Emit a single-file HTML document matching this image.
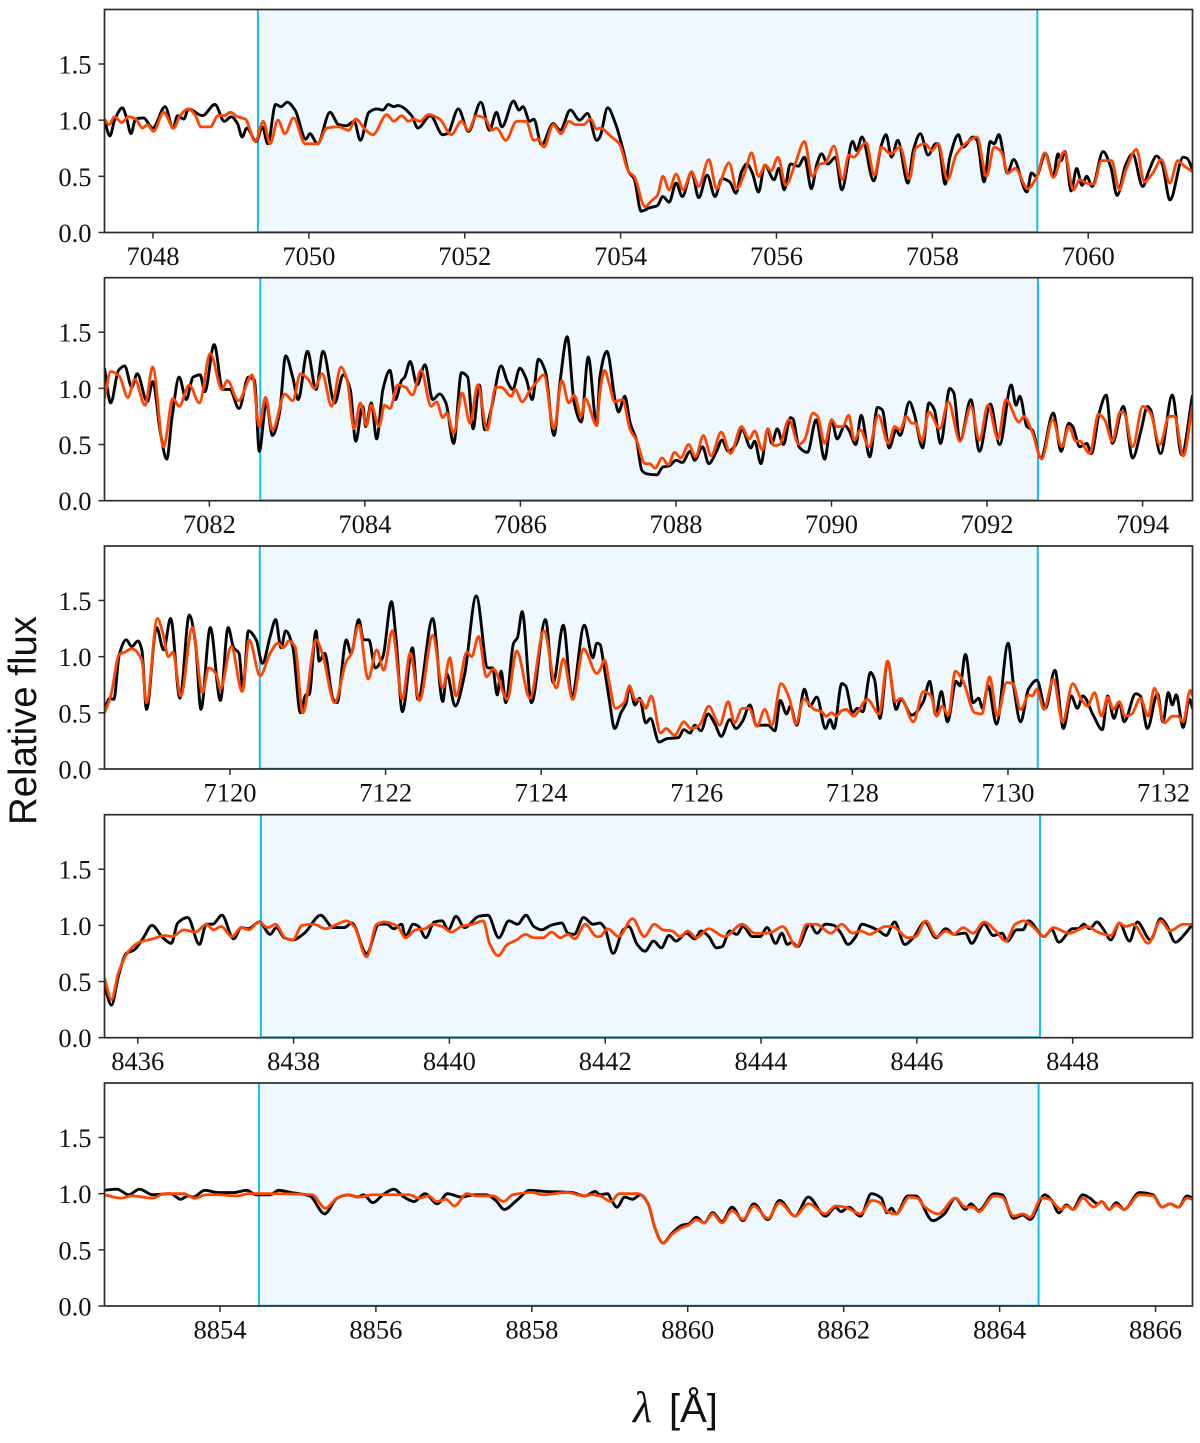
<!DOCTYPE html>
<html lang="en">
<head>
<meta charset="utf-8">
<title>Spectral windows: relative flux vs wavelength</title>
<style>
html,body{margin:0;padding:0;background:#fff;}
#chart{display:block;width:1200px;height:1443px;}
.tick{font-family:"Liberation Serif",serif;font-size:26.5px;fill:#111;}
.axis-title{font-family:"Liberation Sans",sans-serif;fill:#111;}
</style>
</head>
<body>
<svg id="chart" xmlns="http://www.w3.org/2000/svg" width="1200" height="1443" viewBox="0 0 1200 1443">
<text class="axis-title" transform="translate(36,720.5) rotate(-90)" text-anchor="middle" font-size="39" textLength="209" lengthAdjust="spacingAndGlyphs">Relative flux</text>
<text x="633" y="1422" font-family="'Liberation Serif',serif" font-style="italic" font-size="44" fill="#111">λ</text>
<text class="axis-title" x="669" y="1422" font-size="40">[Å]</text>
</svg>
<script>
// Window start wavelength (Å), window width (Å) and the shaded 10 Å interval start for each panel
const windowStart = [7047.378, 7080.652, 7118.387, 8435.573, 8852.519];
const windowWidth = [13.96, 13.99, 13.985, 13.965, 13.955];
const shadeStart = [7049.347, 7082.655, 7120.383, 8437.58, 8854.5];
const xTickLabels = [
  ["7048","7050","7052","7054","7056","7058","7060"],
  ["7082","7084","7086","7088","7090","7092","7094"],
  ["7120","7122","7124","7126","7128","7130","7132"],
  ["8436","8438","8440","8442","8444","8446","8448"],
  ["8854","8856","8858","8860","8862","8864","8866"]
];
const yTickLabels = ["0.0","0.5","1.0","1.5"];

// Wavelength offsets (Å from window start) and relative flux for each series
const p1BlackOffset = [0,.07,.13,.23,.28,.34,.40,.50,.62,.78,.88,.94,1.02,1.08,1.26,1.42,1.54,1.63,1.71,1.77,1.83,1.95,2.03,2.10,2.20,2.27,2.35,2.45,2.59,2.64,2.74,2.90,3.01,3.11,3.21,3.29,3.40,3.50,3.58,3.65,3.72,3.77,3.95,4.03,4.19,4.35,4.41,4.55,4.68,4.84,4.95,5.04,5.11,5.26,5.33,5.38,5.47,5.52,5.62,5.77,5.86,5.99,6.11,6.21,6.33,
6.37,6.47,6.57,6.67,6.74,6.81,6.90,7.01,7.11,7.18,7.26,7.35,7.43,7.55,7.64,7.75,7.85,7.94,8.04,8.12,8.19,8.26,8.33,8.41,8.49,8.61,8.67,8.74,8.82,8.92,9.00,9.09,9.16,9.22,9.30,9.40,9.48,9.62,9.67,9.74,9.89,9.99,10.05,10.12,10.20,10.33,10.40,10.49,10.59,10.69,10.72,10.81,10.87,10.98,11.04,11.17,11.22,11.31,11.39,11.44,11.50,11.61,11.69,11.86,11.92,11.98,12.10,12.20,12.26,12.30,12.35,12.43,12.50,12.57,12.63,12.70,12.84,12.94,13.02,13.13,13.22,13.35,13.43,13.53,13.60,13.70,13.87,13.92,14.00];
const p1BlackFlux = [1.00,.86,1.00,1.11,1.03,.88,1.01,1.02,.93,1.12,.93,1.04,1.01,1.10,1.04,1.14,.99,1.03,.97,.85,.93,.81,.94,.79,1.14,1.12,1.16,1.09,.83,.88,.79,1.07,.96,.95,.99,.82,1.07,1.10,1.09,1.14,1.12,1.13,1.04,.93,1.04,.87,.88,1.10,.90,1.16,.91,1.07,.94,1.17,1.09,1.12,.99,1.01,.78,.97,.91,1.09,1.00,1.06,.82,
.85,1.11,.97,.73,.54,.48,.19,.22,.24,.32,.27,.44,.32,.54,.31,.51,.32,.48,.45,.35,.54,.61,.53,.36,.60,.47,.57,.38,.61,.59,.67,.39,.61,.70,.61,.67,.38,.81,.73,.85,.46,.78,.87,.67,.82,.44,.73,.88,.69,.79,.79,.43,.67,.87,.76,.85,.82,.45,.81,.79,.87,.53,.65,.36,.53,.50,.70,.50,.70,.64,.72,.37,.57,.42,.50,.41,.72,.58,.33,.60,.70,.41,.55,.68,.61,.29,.67,.66,.54];
const p1OrangeOffset = [0,.06,.13,.22,.31,.40,.49,.55,.63,.76,.89,.97,1.08,1.17,1.24,1.36,1.46,1.54,1.62,1.71,1.81,1.94,2.04,2.13,2.23,2.32,2.43,2.58,2.74,2.86,3.01,3.14,3.23,3.36,3.45,3.63,3.72,3.82,3.91,3.98,4.05,4.17,4.31,4.46,4.59,4.68,4.78,4.90,4.98,5.04,5.16,5.30,5.42,5.52,5.58,5.65,5.77,5.87,5.97,6.06,6.16,6.25,6.33,
6.37,6.52,6.62,6.74,6.81,6.95,7.03,7.11,7.18,7.26,7.35,7.44,7.55,7.64,7.77,7.87,8.03,8.13,8.24,8.32,8.41,8.50,8.57,8.66,8.76,8.88,9.00,9.10,9.20,9.27,9.38,9.49,9.57,9.63,9.79,9.90,9.99,10.11,10.23,10.35,10.43,10.55,10.64,10.72,10.84,10.95,11.07,11.22,11.34,11.44,11.53,11.62,11.71,11.87,11.99,12.09,12.20,12.34,12.46,12.54,12.62,12.72,12.82,12.95,13.05,13.13,13.27,13.37,13.48,13.59,13.70,13.80,13.87,13.99];
const p1OrangeFlux = [1.01,.96,1.03,.98,1.03,1.01,.93,.96,.90,1.07,.93,1.04,1.10,1.04,.94,.94,1.04,1.04,1.07,1.03,1.01,.81,.99,.79,1.00,.88,1.02,.79,.79,.93,.94,.91,1.01,.91,.87,1.05,.99,1.04,.99,1.01,.99,1.05,1.01,.87,.99,.91,1.04,1.01,.91,.93,.82,.99,.99,.82,.83,.76,.96,.88,.99,.96,.96,1.01,.92,
.93,.85,.79,.54,.50,.23,.28,.33,.50,.38,.52,.38,.54,.41,.65,.39,.62,.39,.55,.71,.50,.60,.55,.67,.42,.61,.81,.50,.61,.62,.77,.47,.69,.67,.80,.51,.76,.70,.76,.48,.75,.79,.73,.79,.47,.69,.79,.85,.50,.76,.72,.53,.57,.39,.50,.71,.49,.72,.38,.47,.44,.43,.64,.64,.38,.55,.74,.45,.53,.65,.44,.64,.60,.54];

const p2BlackOffset = [0,.08,.18,.26,.35,.42,.55,.62,.72,.80,.87,.96,1.05,1.14,1.23,1.29,1.41,1.52,1.61,1.73,1.85,1.93,1.99,2.08,2.16,2.25,2.33,2.42,2.49,2.61,2.72,2.81,2.96,3.07,3.16,3.23,3.32,3.36,3.43,3.50,3.58,3.67,3.74,3.82,3.86,3.93,4.02,4.12,4.22,4.31,4.39,4.49,4.59,4.67,4.74,4.82,4.89,4.98,5.10,5.18,5.25,5.34,5.42,5.50,5.58,5.67,5.78,5.86,5.95,6.04,6.13,6.22,6.33,
6.37,6.46,6.57,6.61,6.69,6.76,6.84,6.91,6.97,7.10,7.18,7.26,7.35,7.43,7.53,7.59,7.69,7.77,7.87,7.94,8.02,8.12,8.20,8.31,8.36,8.44,8.53,8.58,8.65,8.73,8.82,8.85,8.93,9.04,9.15,9.26,9.35,9.42,9.52,9.57,9.66,9.73,9.84,9.94,10.00,10.09,10.18,10.23,10.35,10.41,10.52,10.60,10.67,10.75,10.87,10.92,11.00,11.14,11.25,11.39,11.51,11.66,11.72,11.77,11.86,11.93,12.04,12.20,12.30,12.40,12.45,12.54,12.63,12.69,12.79,12.88,12.96,13.10,13.22,13.33,13.41,13.45,13.58,13.73,13.85,13.99];
const p2BlackFlux = [1.18,.87,1.16,1.20,1.01,1.13,.88,1.06,.60,.37,.75,1.10,.90,1.10,1.12,.97,1.39,.99,.99,.82,1.10,1.07,.44,.87,.58,.78,1.29,1.10,.90,1.33,.99,1.33,.87,1.12,.99,.53,.84,.66,.87,.55,.99,1.16,.90,1.07,1.10,1.24,1.03,1.21,.90,.95,.87,.51,1.14,1.10,.64,1.03,.63,.84,1.20,1.06,.99,1.18,1.09,.90,1.26,1.15,.58,1.07,1.46,.87,.70,1.28,.67,
1.10,1.33,.88,.79,.93,.69,.54,.27,.24,.23,.30,.31,.36,.34,.44,.36,.48,.33,.44,.54,.44,.50,.63,.47,.53,.33,.64,.51,.64,.50,.74,.73,.48,.43,.72,.37,.72,.55,.67,.63,.50,.76,.39,.83,.81,.47,.63,.58,.88,.78,.47,.87,.81,.51,1.00,.96,.53,.90,.44,.86,.50,1.03,.85,.93,.66,.63,.38,.78,.44,.69,.66,.48,.51,.42,.78,.94,.51,.84,.38,.63,.84,.81,.42,.94,.41,.94];
const p2OrangeOffset = [0,.08,.19,.30,.39,.52,.62,.76,.88,.96,1.09,1.22,1.36,1.51,1.58,1.72,1.90,1.99,2.07,2.16,2.32,2.42,2.52,2.62,2.70,2.80,2.92,3.04,3.12,3.21,3.29,3.37,3.43,3.53,3.60,3.67,3.77,3.87,3.96,4.07,4.20,4.27,4.35,4.40,4.49,4.60,4.70,4.80,4.92,5.03,5.10,5.23,5.28,5.37,5.46,5.54,5.65,5.78,5.88,5.97,6.04,6.13,6.18,6.33,
6.37,6.43,6.49,6.56,6.66,6.76,6.84,6.95,7.01,7.08,7.17,7.25,7.33,7.41,7.51,7.60,7.70,7.80,7.93,8.05,8.19,8.29,8.36,8.46,8.53,8.61,8.68,8.80,8.93,9.00,9.11,9.17,9.26,9.35,9.42,9.49,9.57,9.64,9.72,9.83,9.95,10.08,10.16,10.23,10.31,10.38,10.43,10.51,10.60,10.74,10.85,11.00,11.14,11.25,11.36,11.49,11.59,11.76,11.82,11.93,12.05,12.19,12.31,12.40,12.49,12.54,12.67,12.78,12.86,12.96,13.06,13.11,13.22,13.35,13.45,13.57,13.69,13.76,13.87,13.99];
const p2OrangeFlux = [.91,1.15,1.11,.92,1.08,.85,1.19,.48,.91,.84,1.03,.87,1.31,.99,1.07,.89,1.12,.66,.92,.63,.95,.89,1.13,1.08,1.00,1.13,.84,1.19,1.07,.64,.87,.67,.85,.66,.85,.82,1.03,1.01,.94,1.16,.84,.88,.74,.78,.60,.96,.69,1.03,.63,1.01,1.01,.93,.99,.88,.97,1.04,1.12,.64,1.07,.87,.94,.75,.91,.67,
.96,1.16,1.04,.88,.90,.63,.54,.33,.33,.29,.38,.32,.43,.38,.50,.39,.58,.40,.61,.42,.66,.55,.62,.45,.64,.49,.50,.72,.50,.54,.78,.75,.51,.72,.66,.66,.76,.54,.63,.48,.76,.51,.66,.63,.75,.69,.69,.53,.79,.64,.88,.53,.84,.54,.85,.55,.90,.70,.75,.61,.37,.72,.48,.66,.53,.53,.42,.77,.72,.53,.79,.78,.48,.84,.78,.50,.75,.75,.40,.85];

const p3BlackOffset = [0,.07,.12,.19,.28,.35,.43,.48,.54,.67,.76,.85,.97,1.09,1.17,1.24,1.36,1.49,1.59,1.66,1.73,1.78,1.85,1.95,2.03,2.13,2.20,2.27,2.33,2.42,2.52,2.59,2.63,2.72,2.76,2.83,2.94,2.99,3.11,3.17,3.27,3.33,3.40,3.48,3.58,3.69,3.75,3.83,3.96,4.03,4.22,4.35,4.40,4.51,4.63,4.78,4.93,4.99,5.05,5.10,5.16,5.26,5.31,5.37,5.49,5.67,5.77,5.90,6.01,6.17,6.28,6.33,
6.37,6.42,6.49,6.56,6.64,6.71,6.75,6.82,6.88,6.96,7.02,7.13,7.23,7.38,7.45,7.53,7.59,7.67,7.76,7.85,7.93,8.04,8.12,8.20,8.30,8.38,8.53,8.62,8.69,8.77,8.82,8.90,9.00,9.07,9.16,9.27,9.33,9.38,9.48,9.53,9.62,9.68,9.75,9.85,9.90,9.97,10.07,10.18,10.24,10.38,10.53,10.61,10.69,10.76,10.84,10.95,11.00,11.07,11.17,11.24,11.29,11.36,11.47,11.62,11.69,11.78,11.88,11.99,12.10,12.22,12.33,12.43,12.51,12.58,12.72,12.83,12.90,12.98,13.05,13.11,13.26,13.32,13.41,13.54,13.61,13.68,13.73,13.78,13.87,13.95,13.99];
const p3BlackFlux = [.53,.63,.62,1.02,1.15,1.09,1.14,1.06,.53,1.26,1.06,1.34,.63,1.37,1.12,.53,1.26,.61,1.26,1.08,1.03,.71,1.23,1.15,.94,1.18,1.33,1.08,1.23,1.09,.50,.66,.66,1.23,.96,1.03,.62,.59,1.15,1.03,1.33,1.15,1.15,.90,1.00,1.49,1.15,.51,1.08,.62,1.34,.60,.85,.56,.84,1.54,.90,.90,.66,.87,.59,1.12,1.17,1.40,.59,1.33,.77,1.28,.65,1.28,.99,1.12,
1.11,.93,.62,.36,.50,.59,.74,.57,.63,.41,.45,.24,.27,.28,.35,.32,.39,.34,.49,.40,.29,.44,.36,.42,.57,.39,.39,.34,.61,.49,.56,.39,.71,.56,.64,.36,.44,.36,.76,.74,.50,.54,.51,.86,.80,.45,.96,.53,.62,.48,.60,.78,.48,.69,.42,.78,.74,1.02,.59,.63,.54,.74,.40,1.12,.74,.42,.71,.79,.54,.88,.36,.65,.54,.65,.47,.35,.65,.45,.59,.42,.67,.65,.36,.67,.42,.68,.57,.66,.37,.62,.54];
const p3OrangeOffset = [0,.08,.19,.26,.35,.48,.54,.68,.75,.82,.88,.98,1.13,1.26,1.34,1.44,1.49,1.63,1.77,1.86,2.00,2.13,2.23,2.30,2.37,2.45,2.55,2.72,2.80,2.96,3.11,3.17,3.27,3.39,3.50,3.59,3.70,3.83,3.93,4.05,4.22,4.35,4.44,4.52,4.66,4.72,4.81,4.91,5.00,5.18,5.30,5.47,5.65,5.81,5.90,6.02,6.16,6.33,
6.37,6.43,6.49,6.57,6.68,6.75,6.82,6.90,6.96,7.03,7.15,7.22,7.33,7.45,7.54,7.65,7.77,7.91,8.02,8.10,8.20,8.29,8.39,8.49,8.58,8.70,8.81,8.89,8.99,9.13,9.22,9.28,9.35,9.41,9.48,9.54,9.63,9.81,9.96,10.07,10.17,10.24,10.40,10.53,10.63,10.70,10.77,10.85,10.94,11.04,11.19,11.28,11.38,11.48,11.60,11.68,11.78,11.89,11.93,11.99,12.08,12.20,12.32,12.45,12.56,12.64,12.73,12.82,12.90,12.97,13.05,13.12,13.21,13.32,13.42,13.50,13.63,13.73,13.80,13.87,13.96,13.99];
const p3OrangeFlux = [.50,.65,1.02,1.04,1.07,.97,.59,1.34,1.21,1.00,1.04,.65,1.26,.68,.90,.84,.71,1.09,.69,1.15,.83,1.03,1.12,1.08,1.14,1.09,.50,1.15,1.03,.59,.96,1.02,1.28,.80,1.06,.88,1.23,.62,1.03,.61,1.19,.72,.99,.65,1.04,1.00,1.18,.82,.89,.62,1.05,.63,1.23,.72,.98,.62,1.07,.85,
.88,.97,.77,.54,.59,.74,.62,.61,.54,.65,.32,.36,.30,.42,.36,.39,.56,.39,.60,.41,.54,.54,.38,.53,.39,.76,.62,.40,.62,.53,.51,.47,.50,.47,.52,.53,.47,.62,.49,.96,.60,.63,.42,.69,.65,.47,.56,.48,.87,.78,.50,.49,.82,.47,.77,.76,.53,.66,.65,.71,.53,.80,.42,.76,.62,.56,.68,.47,.64,.53,.60,.47,.49,.63,.47,.72,.41,.47,.47,.42,.70,.65];

const p4BlackOffset = [0,.09,.18,.28,.38,.50,.61,.75,.86,.94,1.07,1.22,1.31,1.39,1.51,1.66,1.76,1.85,1.99,2.13,2.21,2.31,2.42,2.57,2.78,2.94,3.08,3.18,3.37,3.53,3.63,3.72,3.82,3.87,3.97,4.04,4.13,4.24,4.34,4.42,4.52,4.63,4.81,4.93,5.07,5.20,5.31,5.42,5.52,5.62,5.74,5.88,5.96,6.04,6.16,6.28,
6.37,6.43,6.54,6.67,6.74,6.85,6.95,7.06,7.16,7.26,7.35,7.48,7.59,7.67,7.77,7.87,7.94,8.04,8.13,8.21,8.33,8.43,8.52,8.63,8.71,8.78,8.84,8.91,9.07,9.16,9.27,9.38,9.47,9.56,9.66,9.74,9.84,9.96,10.05,10.16,10.29,10.40,10.55,10.69,10.82,10.92,11.07,11.15,11.31,11.43,11.54,11.61,11.73,11.81,11.88,12.08,12.18,12.27,12.45,12.52,12.59,12.67,12.76,12.85,12.94,13.05,13.18,13.28,13.45,13.58,13.65,13.77,13.90,13.99];
const p4BlackFlux = [.46,.29,.55,.75,.78,.89,1.00,.89,.84,1.02,1.07,.83,1.01,1.01,1.09,.88,.98,.97,1.03,.92,.98,.89,.87,.93,1.09,.98,.98,1.02,.75,1.01,1.01,.97,1.01,.90,1.01,.99,.89,1.03,1.04,.96,1.08,.98,1.08,1.09,.89,1.04,1.01,1.09,.99,.96,1.00,1.02,.93,.92,1.07,1.01,
1.02,.98,.75,.96,.99,.83,.77,.86,.80,.91,.86,.93,.88,.95,.90,.80,.81,.95,.92,.99,.90,.90,.98,.84,.93,.83,.85,.81,1.01,.93,1.01,1.00,.93,.83,.90,1.01,.99,.95,.91,1.03,.83,.89,1.03,.89,.97,.92,.93,.84,1.01,.91,.93,.86,.96,.96,1.04,.90,.96,.85,.97,.97,1.01,.97,1.03,.96,.87,1.02,.86,1.03,.87,1.06,1.01,.85,.93,1.01];
const p4OrangeOffset = [0,.09,.18,.31,.45,.62,.77,.87,1.02,1.17,1.31,1.40,1.50,1.64,1.76,1.86,1.98,2.10,2.20,2.32,2.42,2.54,2.69,2.84,2.99,3.11,3.21,3.37,3.50,3.60,3.77,3.87,4.00,4.12,4.22,4.34,4.46,4.59,4.73,4.87,4.95,5.06,5.18,5.30,5.41,5.52,5.64,5.75,5.86,5.96,6.05,6.18,6.33,
6.37,6.47,6.61,6.79,6.94,7.07,7.18,7.30,7.40,7.50,7.61,7.77,7.97,8.20,8.36,8.49,8.58,8.72,8.90,9.03,9.15,9.34,9.48,9.62,9.72,9.84,10.04,10.13,10.33,10.43,10.56,10.70,10.82,10.92,11.04,11.17,11.31,11.46,11.59,11.71,11.82,11.95,12.08,12.20,12.40,12.64,12.77,12.94,13.05,13.13,13.23,13.42,13.58,13.70,13.87,13.99];
const p4OrangeFlux = [.53,.34,.58,.77,.85,.88,.91,.90,.96,.94,1.01,.96,.99,.90,.98,.96,1.03,.98,1.01,.89,.87,1.00,1.01,.97,1.01,1.04,.99,.72,1.01,1.03,.99,.89,.96,.97,1.01,.99,.94,.99,1.01,1.04,.84,.73,.83,.87,.92,.89,.89,.94,.89,.92,.88,1.01,.90,
.90,.97,.90,1.06,.90,1.01,.96,.95,.90,.95,.89,.97,.90,1.01,.93,.93,.94,.99,.81,1.01,1.01,.93,1.01,.93,.95,.92,.99,.99,.89,.90,1.04,.90,.95,.92,.98,.93,1.03,.95,.86,1.01,1.04,.98,.90,.98,.93,.99,.94,.91,1.02,.99,1.01,.84,1.04,.95,1.01,1.01];

const p5BlackOffset = [0,.16,.31,.45,.62,.85,.98,1.07,1.14,1.29,1.46,1.66,1.83,1.95,2.13,2.24,2.40,2.64,2.83,2.99,3.13,3.26,3.33,3.45,3.58,3.72,3.85,3.98,4.12,4.28,4.41,4.59,4.76,4.91,5.03,5.14,5.30,5.47,5.67,6.01,6.18,6.31,
6.37,6.47,6.52,6.59,6.69,6.79,6.89,6.99,7.08,7.18,7.30,7.43,7.51,7.61,7.71,7.82,7.94,8.07,8.21,8.35,8.53,8.68,8.88,9.05,9.27,9.40,9.47,9.57,9.72,9.86,9.99,10.06,10.12,10.18,10.33,10.43,10.65,10.80,10.94,11.07,11.14,11.24,11.44,11.54,11.69,11.81,11.90,12.09,12.18,12.27,12.37,12.45,12.58,12.67,12.77,12.82,12.92,13.01,13.11,13.31,13.48,13.60,13.70,13.81,13.92,13.99];
const p5BlackFlux = [1.03,1.04,.99,1.04,.99,1.00,.95,.98,.97,1.03,1.01,1.01,1.03,.99,.99,1.03,1.01,.98,.82,.96,.99,.97,.99,.92,.99,1.04,.97,.93,1.00,.91,1.00,.97,.99,.99,.94,.86,.94,1.03,1.02,1.01,.98,1.02,
.99,1.00,.94,.88,.97,.95,.99,.91,.69,.56,.65,.72,.73,.79,.74,.83,.75,.88,.76,.91,.77,.94,.80,.97,.80,.88,.84,.88,.80,1.00,.96,.83,.87,.82,.98,.98,.76,.82,.96,.86,.91,.85,1.00,.99,.78,.81,.77,.99,.94,.83,.90,.86,.99,.96,.91,.93,.86,.92,.86,1.01,.99,.88,.91,.88,.98,.96];
const p5OrangeOffset = [0,.21,.35,.62,.77,1.02,1.16,1.31,1.46,1.71,1.85,2.10,2.67,2.84,2.99,3.13,3.28,3.45,3.92,4.04,4.17,4.27,4.39,4.50,4.66,4.78,5.00,5.13,5.25,5.50,5.64,5.94,6.18,6.26,
6.37,6.51,6.62,6.86,6.99,7.08,7.18,7.30,7.43,7.51,7.61,7.71,7.82,7.94,8.07,8.21,8.35,8.53,8.68,8.88,9.05,9.27,9.40,9.52,9.72,9.87,9.99,10.06,10.18,10.35,10.45,10.55,10.72,10.94,11.07,11.17,11.24,11.44,11.54,11.69,11.81,11.90,12.05,12.15,12.30,12.37,12.46,12.58,12.72,12.82,12.92,13.01,13.11,13.31,13.48,13.60,13.70,13.81,13.92,13.99];
const p5OrangeFlux = [.99,.96,.98,.96,1.00,1.00,.96,.99,.99,.98,1.00,1.00,.99,.87,.96,.99,.97,.99,.99,.96,.98,.93,.95,.89,1.00,.98,.98,.93,.99,1.01,.99,1.01,.98,.99,
.98,.93,1.00,1.00,.91,.69,.56,.64,.70,.72,.77,.74,.82,.74,.85,.77,.89,.78,.92,.80,.91,.82,.89,.88,.82,.94,.91,.84,.82,.97,.96,.88,.82,.96,.88,.88,.84,.98,.97,.80,.82,.79,.96,.95,.86,.89,.86,.96,.88,.93,.86,.90,.86,.99,.98,.88,.91,.88,.96,.95];

const blackOffsets = [p1BlackOffset, p2BlackOffset, p3BlackOffset, p4BlackOffset, p5BlackOffset];
const blackFluxes = [p1BlackFlux, p2BlackFlux, p3BlackFlux, p4BlackFlux, p5BlackFlux];
const orangeOffsets = [p1OrangeOffset, p2OrangeOffset, p3OrangeOffset, p4OrangeOffset, p5OrangeOffset];
const orangeFluxes = [p1OrangeFlux, p2OrangeFlux, p3OrangeFlux, p4OrangeFlux, p5OrangeFlux];

// Layout (pixels)
const panelTops = [9.5, 277.7, 546, 814.7, 1083];
const plotLeft = 104.5, plotRight = 1192.5, plotHeight = 223;
const shadeWidth = 10, yMax = 1.985;
const offsetBaseSpan = 13.99;
const spineColor = '#2b2b2b';

const svg = document.getElementById('chart');
const NS = 'http://www.w3.org/2000/svg';

function make(tag, attrs) {
  const el = document.createElementNS(NS, tag);
  for (const k in attrs) el.setAttribute(k, attrs[k]);
  return el;
}

// Monotone cubic path so that each local extremum stays at its read value
function smoothPath(xs, ys) {
  const n = Math.min(xs.length, ys.length);
  if (n < 2) return '';
  const dx = [], slope = [], tan = [];
  for (let i = 0; i < n - 1; i++) {
    dx[i] = Math.max(xs[i + 1] - xs[i], 1e-6);
    slope[i] = (ys[i + 1] - ys[i]) / dx[i];
  }
  tan[0] = slope[0];
  tan[n - 1] = slope[n - 2];
  for (let i = 1; i < n - 1; i++) {
    if (slope[i - 1] * slope[i] <= 0) tan[i] = 0;
    else {
      const w1 = 2 * dx[i] + dx[i - 1], w2 = dx[i] + 2 * dx[i - 1];
      tan[i] = (w1 + w2) / (w1 / slope[i - 1] + w2 / slope[i]);
    }
  }
  let d = 'M' + xs[0].toFixed(2) + ' ' + ys[0].toFixed(2);
  for (let i = 0; i < n - 1; i++) {
    const h = dx[i] / 3;
    d += 'C' + (xs[i] + h).toFixed(2) + ' ' + (ys[i] + tan[i] * h).toFixed(2) + ' ' +
         (xs[i + 1] - h).toFixed(2) + ' ' + (ys[i + 1] - tan[i + 1] * h).toFixed(2) + ' ' +
         xs[i + 1].toFixed(2) + ' ' + ys[i + 1].toFixed(2);
  }
  return d;
}

windowStart.forEach(function (start, p) {
  const top = panelTops[p], bottom = top + plotHeight;
  const xSpan = windowWidth[p];
  const offsetCalibration = xSpan / offsetBaseSpan;
  const xScale = function (lam) { return plotLeft + (lam - start) / xSpan * (plotRight - plotLeft); };
  const yScale = function (v) { return bottom - v / yMax * plotHeight; };

  const g = make('g', {});
  
  
  svg.appendChild(g);

  const clipId = 'clip' + p;
  const defs = make('defs', {});
  const clip = make('clipPath', { id: clipId });
  clip.appendChild(make('rect', { x: plotLeft, y: top, width: plotRight - plotLeft, height: plotHeight }));
  defs.appendChild(clip);
  g.appendChild(defs);

  const x0 = xScale(shadeStart[p]), x1 = xScale(shadeStart[p] + shadeWidth);
  const shade = make('rect', { x: x0, y: top, width: x1 - x0, height: plotHeight, fill: '#f0f8ff' });
  
  
  g.appendChild(shade);

  const baseEdge = make('line', { x1: x0, x2: x1, y1: bottom - 0.8, y2: bottom - 0.8, stroke: '#12bdf0', 'stroke-width': 1 });
  
  
  g.appendChild(baseEdge);

  [x0, x1].forEach(function (vx) {
    const edge = make('line', { x1: vx, x2: vx, y1: top, y2: bottom, stroke: '#12bdf0', 'stroke-width': 2 });
    
    
    g.appendChild(edge);
  });

  const blackX = blackOffsets[p].map(function (o) { return xScale(start + o * offsetCalibration); });
  const blackY = blackFluxes[p].map(yScale);
  const black = make('path', { d: smoothPath(blackX, blackY), fill: 'none', stroke: '#050505', 'stroke-width': 2.9, 'stroke-linejoin': 'round', 'clip-path': 'url(#' + clipId + ')' });
  
  
  g.appendChild(black);

  const orangeX = orangeOffsets[p].map(function (o) { return xScale(start + o * offsetCalibration); });
  const orangeY = orangeFluxes[p].map(yScale);
  const orange = make('path', { d: smoothPath(orangeX, orangeY), fill: 'none', stroke: '#ff4500', 'stroke-width': 2.8, 'stroke-linejoin': 'round', 'clip-path': 'url(#' + clipId + ')' });
  
  
  g.appendChild(orange);

  const frame = make('rect', { x: plotLeft, y: top, width: plotRight - plotLeft, height: plotHeight, fill: 'none', stroke: spineColor, 'stroke-width': 1.7 });
  
  
  g.appendChild(frame);

  yTickLabels.forEach(function (label) {
    const ty = yScale(parseFloat(label));
    const mark = make('line', { x1: plotLeft - 6, x2: plotLeft, y1: ty, y2: ty, stroke: spineColor, 'stroke-width': 1.5 });
    
    
    g.appendChild(mark);
    const txt = make('text', { x: plotLeft - 13, y: ty + 9.5, 'text-anchor': 'end', class: 'tick' });
    
    
    txt.textContent = label;
    g.appendChild(txt);
  });

  xTickLabels[p].forEach(function (label) {
    const tx = xScale(parseFloat(label));
    const mark = make('line', { x1: tx, x2: tx, y1: bottom, y2: bottom + 6, stroke: spineColor, 'stroke-width': 1.5 });
    
    
    g.appendChild(mark);
    const txt = make('text', { x: tx, y: bottom + 32.5, 'text-anchor': 'middle', class: 'tick' });
    
    
    txt.textContent = label;
    g.appendChild(txt);
  });
});
</script>
</body>
</html>
